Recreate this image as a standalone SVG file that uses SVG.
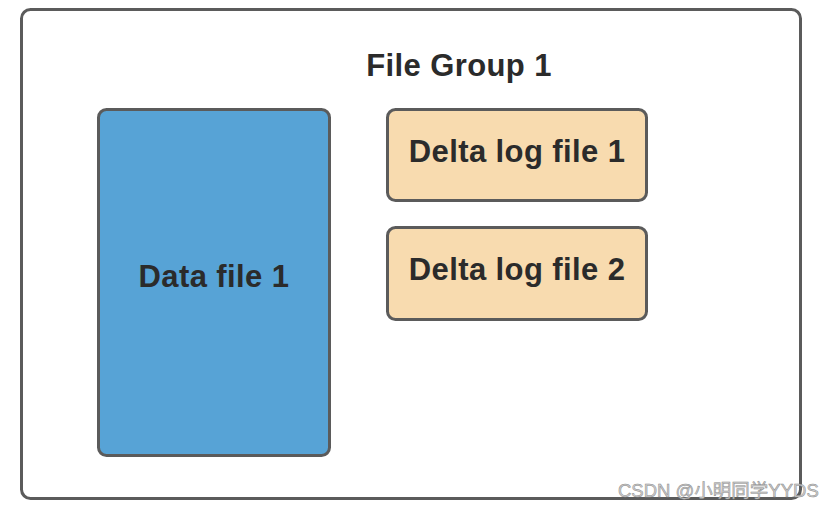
<svg xmlns="http://www.w3.org/2000/svg" width="831" height="510" viewBox="0 0 831 510">
<style>
.box{stroke:#5b5b5b;stroke-width:3}
.lbl{font-family:"Liberation Sans",Arial,sans-serif;font-weight:bold;font-size:31px;letter-spacing:0.4px;fill:#2b2b2b;text-anchor:middle}
.wm{font-family:"Liberation Sans","Noto Sans CJK SC",sans-serif;font-size:18.5px;fill:#d0d0d0;stroke:#8a8a8a;stroke-width:0.5}
</style>
<rect width="831" height="510" fill="#ffffff"/>
<g id="group">
<rect x="21.5" y="9.5" width="779" height="489" rx="9" fill="#ffffff" class="box"/>
<text x="459" y="76" class="lbl">File Group 1</text>
</g>
<g id="data1">
<rect x="98.5" y="109.5" width="231" height="346" rx="8" fill="#57a3d6" class="box"/>
<text x="214" y="287" class="lbl">Data file 1</text>
</g>
<g id="delta1">
<rect x="387.5" y="109.5" width="259" height="91" rx="8" fill="#f8dbaf" class="box"/>
<text x="517" y="162" class="lbl">Delta log file 1</text>
</g>
<g id="delta2">
<rect x="387.5" y="227.5" width="259" height="92" rx="8" fill="#f8dbaf" class="box"/>
<text x="517" y="280" class="lbl">Delta log file 2</text>
</g>
<g id="connectors"></g>
<text x="618" y="497" class="wm">CSDN @小明同学YYDS</text>
</svg>
